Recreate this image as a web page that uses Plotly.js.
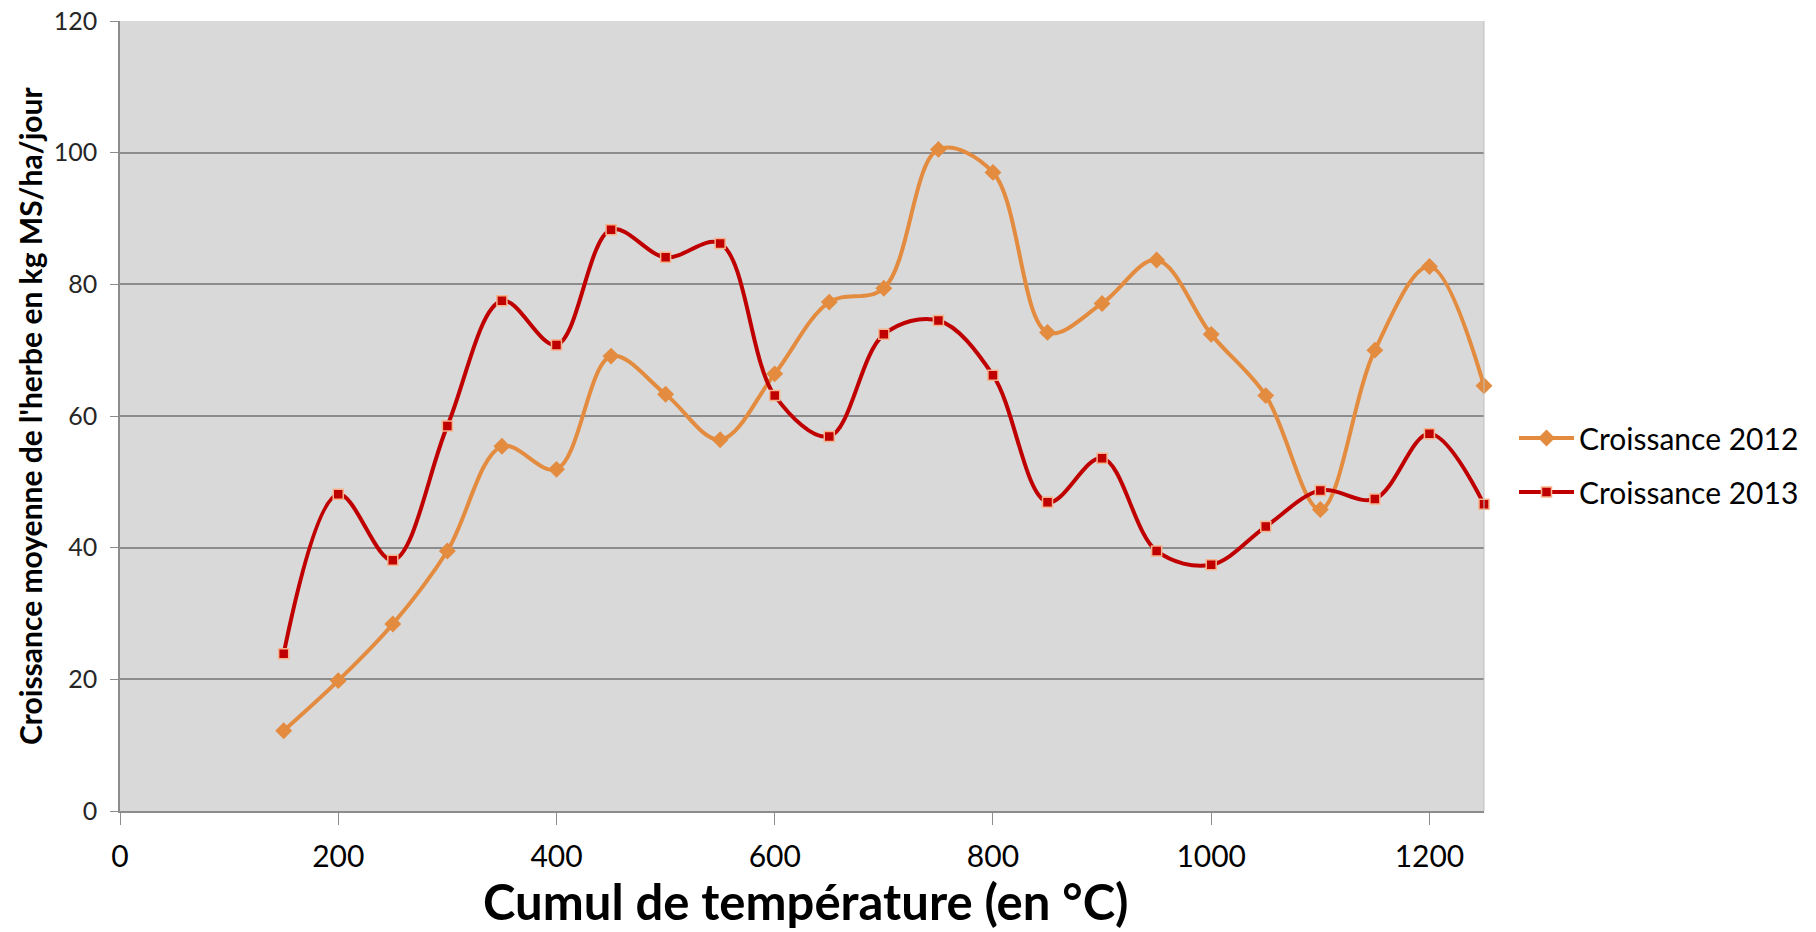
<!DOCTYPE html>
<html>
<head>
<meta charset="utf-8">
<script src="https://cdn.plot.ly/plotly-3.0.1.min.js"></script>
<style>
  html, body { margin: 0; padding: 0; background: #fff; }
  #chart { width: 1816px; height: 932px; }
</style>
</head>
<body>
<div id="chart"></div>
<script>
// cumul de température (°C)
var temp = [150, 200, 250, 300, 350, 400, 450, 500, 550, 600, 650, 700,
            750, 800, 850, 900, 950, 1000, 1050, 1100, 1150, 1200, 1250];

// croissance moyenne (kg MS/ha/jour)
var croissance2012 = [12.2, 19.8, 28.4, 39.5, 55.4, 51.9, 69.1, 63.3, 56.4, 66.4, 77.3, 79.4,
                      100.5, 97.0, 72.7, 77.1, 83.7, 72.4, 63.1, 45.8, 70.0, 82.7, 64.6];
var croissance2013 = [23.9, 48.1, 38.1, 58.5, 77.5, 70.8, 88.3, 84.1, 86.2, 63.1, 56.9, 72.4,
                      74.5, 66.2, 46.9, 53.6, 39.5, 37.4, 43.2, 48.7, 47.4, 57.3, 46.6];

var xTicks = [0, 200, 400, 600, 800, 1000, 1200];
var yTicks = [0, 20, 40, 60, 80, 100, 120];

var titreX = 'Cumul de température (en °C)';
var titreY = "Croissance moyenne de l'herbe en kg MS/ha/jour";

var police = 'Lato, "Open Sans", sans-serif';

var trace2012 = {
    x: temp,
    y: croissance2012,
    name: 'Croissance 2012',
    legendgroup: 'a',
    type: 'scatter',
    mode: 'lines+markers',
    cliponaxis: false,
    line: { color: '#E38B3F', width: 4, shape: 'spline', smoothing: 1 },
    marker: { symbol: 'diamond', size: 13, color: '#E38B3F' }
};

var trace2013 = {
    x: temp,
    y: croissance2013,
    name: 'Croissance 2013',
    legendgroup: 'b',
    type: 'scatter',
    mode: 'lines+markers',
    cliponaxis: false,
    line: { color: '#C00000', width: 4, shape: 'spline', smoothing: 1 },
    marker: { symbol: 'square', size: 10, color: '#C00000',
              line: { color: '#F7B38C', width: 1.5 } }
};

var layout = {
    width: 1816,
    height: 932,
    margin: { l: 120, r: 329, t: 21, b: 121 },
    paper_bgcolor: '#ffffff',
    plot_bgcolor: '#D9D9D9',
    font: { family: police, color: '#262626' },
    showlegend: true,
    legend: {
        x: 1.022, y: 0.438, xanchor: 'left', yanchor: 'middle',
        font: { size: 30, family: police, color: '#000' },
        itemwidth: 55,
        tracegroupgap: 12,
        bgcolor: 'rgba(0,0,0,0)'
    },
    xaxis: {
        range: [0, 1250],
        tickvals: xTicks,
        showgrid: false,
        zeroline: false,
        showline: true,
        linecolor: '#8C8C8C',
        linewidth: 1.5,
        ticks: 'outside',
        ticklen: 12,
        tickwidth: 1.2,
        tickcolor: '#8C8C8C',
        ticklabelstandoff: 6,
        automargin: false,
        tickfont: { size: 30, family: police, color: '#000' }
    },
    yaxis: {
        range: [0, 120],
        tickvals: yTicks,
        showgrid: true,
        gridcolor: '#8C8C8C',
        gridwidth: 1.5,
        zeroline: false,
        showline: true,
        linecolor: '#8C8C8C',
        linewidth: 1.5,
        ticks: 'outside',
        ticklen: 8,
        tickwidth: 1.2,
        tickcolor: '#8C8C8C',
        ticklabelstandoff: 8,
        automargin: false,
        tickfont: { size: 25, family: police, color: '#262626' }
    },
    // titres des axes placés à la main (le standoff est ignoré sans automargin)
    annotations: [{
        text: titreX,
        xref: 'paper', yref: 'paper',
        x: 0.503, y: -0.1532,
        xanchor: 'center', yanchor: 'bottom',
        showarrow: false,
        font: { size: 49, family: police, color: '#000', weight: 'bold' }
    }, {
        text: titreY,
        xref: 'paper', yref: 'paper',
        x: -0.066, y: 0.5,
        xanchor: 'center', yanchor: 'middle',
        textangle: -90,
        showarrow: false,
        font: { size: 30, family: police, color: '#000', weight: 'bold' }
    }],
    shapes: [{
        type: 'line', xref: 'paper', yref: 'paper',
        x0: 1, x1: 1, y0: 0, y1: 1,
        line: { color: '#BFBFBF', width: 1 }
    }]
};

Plotly.newPlot('chart', [trace2012, trace2013], layout, { displayModeBar: false, responsive: false });
</script>
</body>
</html>
